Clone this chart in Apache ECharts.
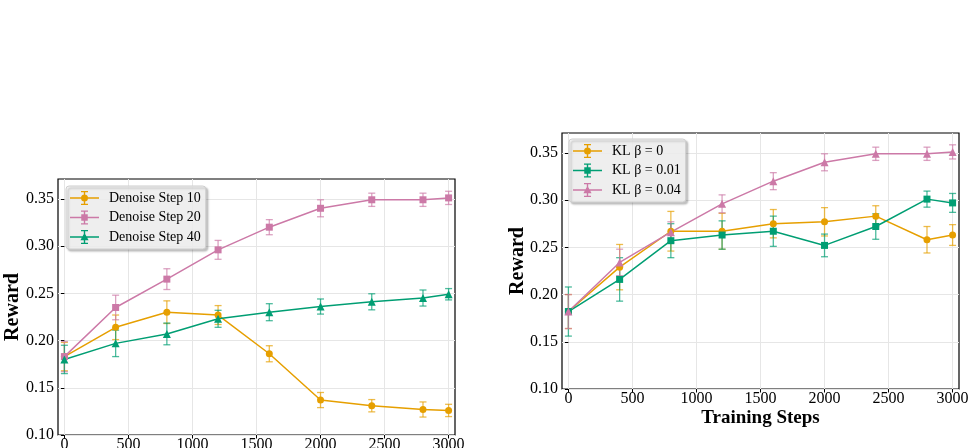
<!DOCTYPE html>
<html><head><meta charset="utf-8">
<script src="https://cdn.jsdelivr.net/npm/echarts@6/dist/echarts.min.js"></script>
<style>html,body{margin:0;padding:0;background:#fff}#c{width:976px;height:448px}</style>
</head><body><div id="c"></div>
<script>
// ---- data ----
const steps = [0, 400, 800, 1200, 1600, 2000, 2400, 2800, 3000];
const xTickValues = [0, 500, 1000, 1500, 2000, 2500, 3000];
const yTickValues = [0.10, 0.15, 0.20, 0.25, 0.30, 0.35];

// left chart: denoise steps
const denoiseNames = ['Denoise Step 10', 'Denoise Step 20', 'Denoise Step 40'];
const denoise10 = [0.183, 0.214, 0.230, 0.227, 0.186, 0.137, 0.131, 0.127, 0.126];
const denoise10Err = [0.015, 0.013, 0.012, 0.010, 0.0085, 0.008, 0.0065, 0.008, 0.0065];
const denoise20 = [0.183, 0.235, 0.265, 0.296, 0.320, 0.340, 0.349, 0.349, 0.351];
const denoise20Err = [0.016, 0.013, 0.011, 0.010, 0.008, 0.009, 0.007, 0.007, 0.007];
const denoise40 = [0.180, 0.197, 0.207, 0.223, 0.230, 0.236, 0.241, 0.245, 0.249];
const denoise40Err = [0.015, 0.014, 0.0115, 0.009, 0.009, 0.008, 0.0085, 0.0085, 0.006];

// right chart: KL beta
const klNames = ['KL \u03b2 = 0', 'KL \u03b2 = 0.01', 'KL \u03b2 = 0.04'];
const kl0 = [0.182, 0.229, 0.267, 0.267, 0.275, 0.277, 0.283, 0.258, 0.263];
const kl0Err = [0.018, 0.024, 0.021, 0.019, 0.015, 0.015, 0.011, 0.014, 0.011];
const kl001 = [0.182, 0.216, 0.257, 0.263, 0.267, 0.252, 0.272, 0.301, 0.297];
const kl001Err = [0.026, 0.023, 0.018, 0.015, 0.016, 0.012, 0.0135, 0.0085, 0.010];
const kl004 = [0.182, 0.234, 0.266, 0.296, 0.320, 0.340, 0.349, 0.349, 0.351];
const kl004Err = [0.018, 0.014, 0.011, 0.0095, 0.009, 0.009, 0.007, 0.007, 0.0075];

// ---- style ----
const ORANGE = '#E69F00', PINK = '#CC79A7', GREEN = '#009E73';
const FONT = 'Liberation Serif';

// legend icons: line + error bar + marker (29 x 14 box)
const ICON_BASE = 'M0,6.3 L29,6.3 L29,7.7 L0,7.7 Z M13.8,0 L15.2,0 L15.2,14 L13.8,14 Z ' +
  'M11,0 L18,0 L18,1.2 L11,1.2 Z M11,12.8 L18,12.8 L18,14 L11,14 Z ';
const ICON = {
  circle: 'path://' + ICON_BASE + 'M11,7 A3.5,3.5 0 1,1 18,7 A3.5,3.5 0 1,1 11,7 Z',
  rect: 'path://' + ICON_BASE + 'M11.25,3.75 L17.75,3.75 L17.75,10.25 L11.25,10.25 Z',
  triangle: 'path://' + ICON_BASE + 'M14.5,2.8 L18.6,10.2 L10.4,10.2 Z'
};

function errRender(color) {
  return function (params, api) {
    const x = api.value(0), lo = api.value(1), hi = api.value(2);
    const a = api.coord([x, lo]), b = api.coord([x, hi]);
    const cap = 3.5;
    const style = { stroke: color, lineWidth: 1.3, opacity: 0.7 };
    return { type: 'group', children: [
      { type: 'line', shape: { x1: a[0], y1: a[1], x2: b[0], y2: b[1] }, style: style },
      { type: 'line', shape: { x1: a[0] - cap, y1: a[1], x2: a[0] + cap, y2: a[1] }, style: style },
      { type: 'line', shape: { x1: b[0] - cap, y1: b[1], x2: b[0] + cap, y2: b[1] }, style: style }
    ] };
  };
}

function makeSeries(idx, name, vals, errs, color, symbol, symSize) {
  return [
    { type: 'custom', xAxisIndex: idx, yAxisIndex: idx, z: 2,
      renderItem: errRender(color), encode: { x: 0, y: [1, 2] },
      data: steps.map((s, i) => [s, vals[i] - errs[i], vals[i] + errs[i]]) },
    { type: 'line', name: name, xAxisIndex: idx, yAxisIndex: idx, z: 3,
      data: steps.map((s, i) => [s, vals[i]]),
      symbol: symbol, symbolSize: symSize, showSymbol: true,
      itemStyle: { color: color, borderWidth: 0 },
      lineStyle: { color: color, width: 1.5 }, emphasis: { disabled: true } }
  ];
}

function xAxis(idx, name) {
  return {
    type: 'value', gridIndex: idx, min: -50, max: 3050,
    name: name, nameLocation: 'middle', nameGap: 20, nameMoveOverlap: false,
    nameTextStyle: { fontFamily: FONT, fontSize: 19, fontWeight: 'bold', color: '#000' },
    axisLine: { show: false },
    axisTick: { show: true, length: 3.5, lineStyle: { color: '#000', width: 1 }, customValues: xTickValues },
    axisLabel: { fontFamily: FONT, fontSize: 16, color: '#000', margin: 2, customValues: xTickValues,
      formatter: v => String(Math.round(v)) },
    splitLine: { show: true, lineStyle: { color: '#e6e6e6', width: 1 } }
  };
}
function yAxis(idx, gap) {
  return {
    type: 'value', gridIndex: idx, min: 0.10, max: 0.371,
    name: 'Reward', nameLocation: 'middle', nameGap: gap, nameMoveOverlap: false,
    nameTextStyle: { fontFamily: FONT, fontSize: 20, fontWeight: 'bold', color: '#000' },
    axisLine: { show: false },
    axisTick: { show: true, length: 3.5, lineStyle: { color: '#000', width: 1 }, customValues: yTickValues },
    axisLabel: { fontFamily: FONT, fontSize: 16, color: '#000', margin: 4, customValues: yTickValues,
      formatter: v => v.toFixed(2) },
    splitLine: { show: true, lineStyle: { color: '#e6e6e6', width: 1 } }
  };
}

function legend(names, shapes, left, top) {
  return {
    orient: 'vertical', left: left, top: top,
    data: names.map((n, i) => ({ name: n, icon: ICON[shapes[i]] })),
    itemWidth: 29, itemHeight: 14, itemGap: 5.5,
    padding: [5, 5, 5, 4],
    backgroundColor: 'rgba(242,242,242,0.9)', borderColor: '#cfcfcf', borderWidth: 1, borderRadius: 3,
    shadowColor: 'rgba(0,0,0,0.25)', shadowBlur: 2, shadowOffsetX: 2, shadowOffsetY: 2,
    textStyle: { fontFamily: FONT, fontSize: 14, color: '#000', padding: [0, 0, 0, 5] },
    selectedMode: false, inactiveColor: '#000'
  };
}

const chart = echarts.init(document.getElementById('c'), null, { renderer: 'canvas' });
chart.setOption({
  animation: false,
  backgroundColor: '#fff',
  grid: [
    { left: 58, top: 179, width: 397, height: 256, show: true, borderColor: '#000', borderWidth: 1.2,
      backgroundColor: 'transparent', outerBoundsMode: 'none', containLabel: false },
    { left: 562, top: 133, width: 397, height: 256, show: true, borderColor: '#000', borderWidth: 1.2,
      backgroundColor: 'transparent', outerBoundsMode: 'none', containLabel: false }
  ],
  xAxis: [xAxis(0, ''), xAxis(1, 'Training Steps')],
  yAxis: [yAxis(0, 35), yAxis(1, 34)],
  legend: [
    legend(denoiseNames, ['circle', 'rect', 'triangle'], 66, 186),
    legend(klNames, ['circle', 'rect', 'triangle'], 569, 139)
  ],
  series: [].concat(
    makeSeries(0, denoiseNames[0], denoise10, denoise10Err, ORANGE, 'circle', 7),
    makeSeries(0, denoiseNames[1], denoise20, denoise20Err, PINK, 'rect', 7),
    makeSeries(0, denoiseNames[2], denoise40, denoise40Err, GREEN, 'triangle', 8),
    makeSeries(1, klNames[0], kl0, kl0Err, ORANGE, 'circle', 7),
    makeSeries(1, klNames[1], kl001, kl001Err, GREEN, 'rect', 7),
    makeSeries(1, klNames[2], kl004, kl004Err, PINK, 'triangle', 8)
  )
});
</script>
</body></html>
